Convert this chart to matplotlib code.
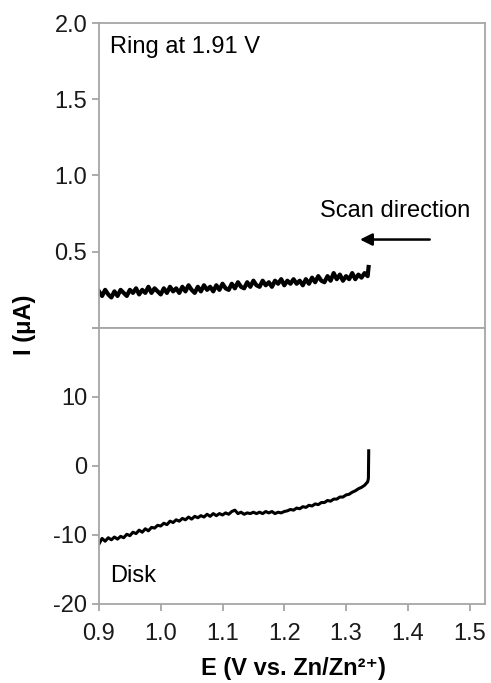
import numpy as np
import matplotlib
matplotlib.use('Agg')
import matplotlib.pyplot as plt

plt.rcParams['font.family'] = ['Liberation Sans', 'DejaVu Sans']

# sample grid of the scan (V vs Zn/Zn2+), 5 mV steps
E_start, E_step = 0.900, 0.005

ring_I = [0.24, 0.21, 0.25, 0.22, 0.20, 0.24, 0.21, 0.25, 0.23, 0.21,
          0.25, 0.23, 0.26, 0.22, 0.25, 0.23, 0.27, 0.23, 0.26, 0.24,
          0.22, 0.26, 0.23, 0.27, 0.24, 0.26, 0.23, 0.27, 0.24, 0.28,
          0.25, 0.23, 0.27, 0.24, 0.28, 0.25, 0.27, 0.24, 0.28, 0.25,
          0.29, 0.26, 0.25, 0.29, 0.26, 0.30, 0.27, 0.26, 0.30, 0.27,
          0.31, 0.28, 0.27, 0.31, 0.28, 0.30, 0.27, 0.31, 0.29, 0.32,
          0.28, 0.31, 0.29, 0.32, 0.29, 0.31, 0.28, 0.32, 0.29, 0.33,
          0.30, 0.34, 0.31, 0.30, 0.34, 0.31, 0.36, 0.32, 0.35, 0.31,
          0.34, 0.32, 0.36, 0.32, 0.35, 0.33, 0.36, 0.34]
ring_tail_E = [1.3365]
ring_tail_I = [0.40]

disk_I = [-11.3, -10.5, -10.9, -10.4, -10.7, -10.3, -10.6, -10.2, -10.4, -9.9,
          -10.1, -9.6, -9.8, -9.3, -9.6, -9.1, -9.4, -8.9, -9.0, -8.6,
          -8.7, -8.3, -8.5, -8.0, -8.2, -7.8, -8.0, -7.6, -7.8, -7.4,
          -7.7, -7.3, -7.5, -7.2, -7.4, -7.0, -7.3, -6.9, -7.2, -6.9,
          -7.1, -6.8, -7.0, -6.6, -6.4, -6.9, -6.7, -7.0, -6.8, -6.9,
          -6.7, -6.9, -6.7, -6.9, -6.6, -6.8, -6.6, -6.9, -6.7, -6.8,
          -6.6, -6.5, -6.3, -6.4, -6.1, -6.2, -5.9, -6.0, -5.7, -5.8,
          -5.5, -5.6, -5.3, -5.3, -5.0, -5.1, -4.8, -4.8, -4.5, -4.5,
          -4.2, -4.1, -3.8, -3.6, -3.3, -3.1, -2.8, -2.3]
disk_tail_E = [1.3362, 1.3367]
disk_tail_I = [-1.8, 2.2]

ring_E = list(E_start + E_step * np.arange(len(ring_I))) + ring_tail_E
ring_I = ring_I + ring_tail_I
disk_E = list(E_start + E_step * np.arange(len(disk_I))) + disk_tail_E
disk_I = disk_I + disk_tail_I

x_ticks = [0.9, 1.0, 1.1, 1.2, 1.3, 1.4, 1.5]
ring_ticks = [0.0, 0.5, 1.0, 1.5, 2.0]
disk_ticks = [-20, -10, 0, 10, 20]

grey = '#a6a6a6'
fs = 17

fig = plt.figure(figsize=(4.91, 6.83), dpi=100)
ax1 = fig.add_axes([0.2016, 0.5198, 0.7862, 0.4465])
ax2 = fig.add_axes([0.2016, 0.1157, 0.7862, 0.4041])

ax1.plot(ring_E, ring_I, color='black', lw=3.0)
ax2.plot(disk_E, disk_I, color='black', lw=2.2)

for ax in (ax1, ax2):
    for s in ax.spines.values():
        s.set_color(grey)
        s.set_linewidth(1.3)
    ax.set_xlim(0.9, 1.525)
    ax.tick_params(axis='both', direction='out', color=grey, width=1.3,
                   length=5, labelsize=fs, labelcolor='#1a1a1a')

ax1.set_ylim(0, 2.0)
ax1.set_yticks(ring_ticks)
ax1.set_yticklabels(['', '0.5', '1.0', '1.5', '2.0'])
ax1.set_xticks([])

ax2.set_ylim(-20, 20)
ax2.set_yticks(disk_ticks)
ax2.set_yticklabels(['-20', '-10', '0', '10', ''])
ax2.set_xticks(x_ticks)
ax2.set_xticklabels(['%.1f' % v for v in x_ticks])
ax2.tick_params(axis='x', pad=9)

ax1.text(0.918, 1.84, 'Ring at 1.91 V', fontsize=fs, va='center', ha='left')
ax1.text(1.379, 0.765, 'Scan direction', fontsize=fs, va='center', ha='center')
ax1.annotate('', xy=(1.318, 0.58), xytext=(1.440, 0.58),
             arrowprops=dict(arrowstyle='-|>', color='black', lw=1.8,
                             mutation_scale=18))
ax2.text(0.918, -15.9, 'Disk', fontsize=fs, va='center', ha='left')

fig.text(0.05, 1 - 325 / 683, 'I (μA)', rotation=90, fontsize=fs,
         fontweight='bold', ha='center', va='center')
fig.text(0.597, 1 - 668 / 683, 'E (V vs. Zn/Zn²⁺)', fontsize=fs,
         fontweight='bold', ha='center', va='center')

fig.savefig('out.png', dpi=100)
